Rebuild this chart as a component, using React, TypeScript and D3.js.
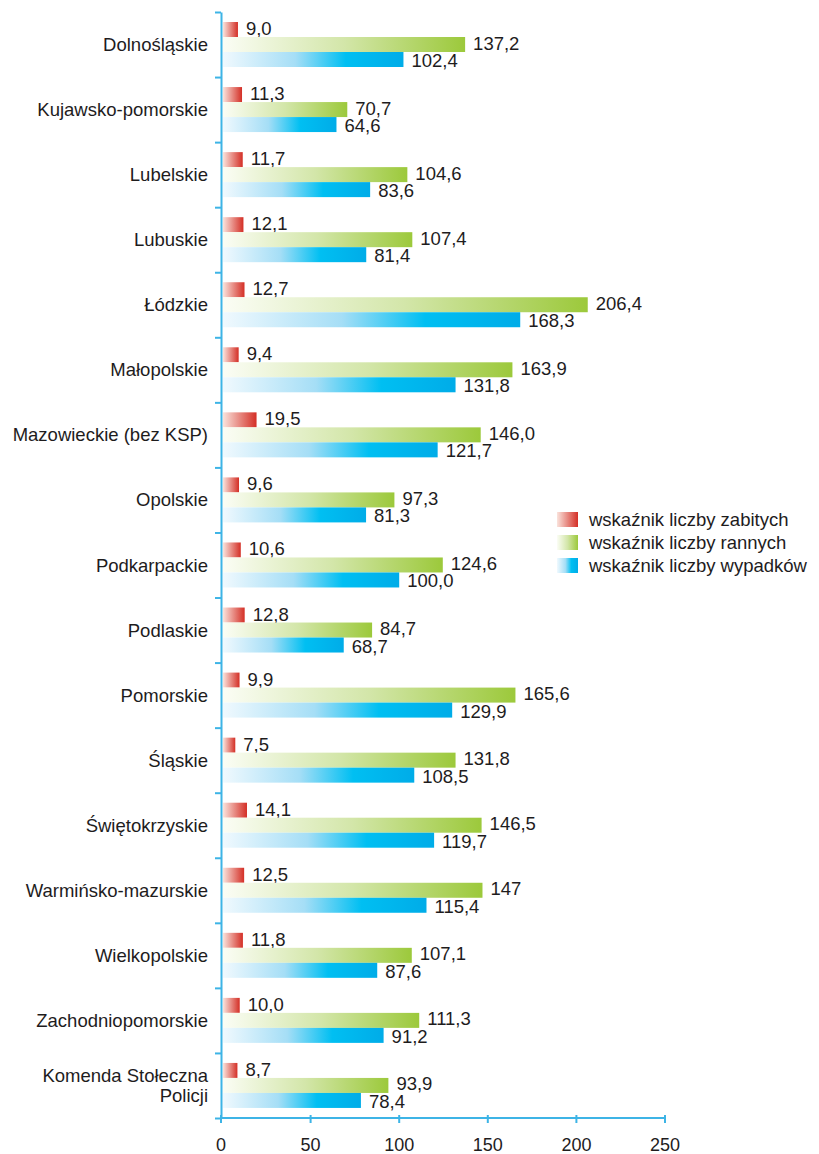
import React, { useRef, useEffect } from "react";
import * as d3 from "d3";

const categories = [
	"Dolnośląskie",
	"Kujawsko-pomorskie",
	"Lubelskie",
	"Lubuskie",
	"Łódzkie",
	"Małopolskie",
	"Mazowieckie (bez KSP)",
	"Opolskie",
	"Podkarpackie",
	"Podlaskie",
	"Pomorskie",
	"Śląskie",
	"Świętokrzyskie",
	"Warmińsko-mazurskie",
	"Wielkopolskie",
	"Zachodniopomorskie",
	"Komenda Stołeczna\nPolicji",
];

// printed values (Polish decimal comma)
const zabici = ["9,0", "11,3", "11,7", "12,1", "12,7", "9,4", "19,5", "9,6", "10,6", "12,8", "9,9", "7,5", "14,1", "12,5", "11,8", "10,0", "8,7"];
const ranni = ["137,2", "70,7", "104,6", "107,4", "206,4", "163,9", "146,0", "97,3", "124,6", "84,7", "165,6", "131,8", "146,5", "147", "107,1", "111,3", "93,9"];
const wypadki = ["102,4", "64,6", "83,6", "81,4", "168,3", "131,8", "121,7", "81,3", "100,0", "68,7", "129,9", "108,5", "119,7", "115,4", "87,6", "91,2", "78,4"];

const seriesNames = [
	"wskaźnik liczby zabitych",
	"wskaźnik liczby rannych",
	"wskaźnik liczby wypadków",
];

const xTicks = [0, 50, 100, 150, 200, 250];

const AXIS_COLOR = "#3db4e6";
const TEXT_COLOR = "#1e1c1d";
const FONT = "'Liberation Sans', Arial, Helvetica, sans-serif";

// vertical nudge of the value labels, per series
const labelDy = [5.5, 5, 7.5];

const App = () => {
	const svgRef = useRef<SVGSVGElement | null>(null);

	useEffect(() => {
		if (!svgRef.current) return;
		const width = 819;
		const height = 1154;
		const svg = d3.select(svgRef.current);
		svg.attr("width", width).attr("height", height);
		svg.selectAll("*").remove();

		const series = [zabici, ranni, wypadki].map((arr, i) => ({
			key: `s${i}`,
			name: seriesNames[i],
			values: arr.map((s) => ({ label: s, value: parseFloat(s.replace(",", ".")) })),
		}));

		const axisX = 221;
		const top = 12;
		const bottom = 1118;

		const x = d3.scaleLinear().domain([0, 250]).range([222, 665]);
		const y0 = d3.scaleBand<string>().domain(categories).range([top, bottom]);
		const y1 = d3
			.scaleBand<string>()
			.domain(series.map((s) => s.key))
			.range([10, 55]);

		const defs = svg.append("defs");
		const gradStops = [
			[
				[0, "#fae3dc"],
				[1, "#d42f26"],
			],
			[
				[0, "#fbfdf5"],
				[0.5, "#d3e6a9"],
				[1, "#9cc93b"],
			],
			[
				[0, "#f0f9fe"],
				[0.4, "#a5def6"],
				[0.68, "#00bff2"],
				[1, "#00ace8"],
			],
		];
		gradStops.forEach((stops, i) => {
			const lg = defs
				.append("linearGradient")
				.attr("id", `grad${i}`)
				.attr("x1", "0%")
				.attr("y1", "0%")
				.attr("x2", "100%")
				.attr("y2", "0%");
			stops.forEach(([o, c]) => {
				lg.append("stop").attr("offset", `${(o as number) * 100}%`).attr("stop-color", c as string);
			});
		});

		// bars
		series.forEach((s, si) => {
			const g = svg.append("g");
			g.selectAll("rect")
				.data(s.values)
				.join("rect")
				.attr("x", x(0) + 1)
				.attr("y", (d, i) => y0(categories[i])! + y1(s.key)!)
				.attr("width", (d) => x(d.value) - x(0) - 1)
				.attr("height", y1.bandwidth())
				.attr("fill", `url(#grad${si})`);

			g.selectAll("text")
				.data(s.values)
				.join("text")
				.attr("x", (d) => x(d.value) + 8)
				.attr("y", (d, i) => y0(categories[i])! + y1(s.key)! + y1.bandwidth() / 2 + labelDy[si])
				.attr("font-family", FONT)
				.attr("font-size", "18.5px")
				.attr("fill", TEXT_COLOR)
				.text((d) => d.label);
		});

		// y axis with ticks at band boundaries
		const yIdx = d3.scaleLinear().domain([0, categories.length]).range([top, bottom]);
		const yAxis = d3
			.axisLeft(yIdx)
			.tickValues(d3.range(categories.length + 1))
			.tickFormat(() => "")
			.tickSizeInner(6)
			.tickSizeOuter(0);
		const yg = svg.append("g").attr("transform", `translate(${axisX},0)`).call(yAxis);
		yg.select(".domain").attr("stroke", AXIS_COLOR).attr("stroke-width", 2);
		yg.selectAll(".tick line").attr("stroke", AXIS_COLOR).attr("stroke-width", 2);

		// category labels
		const labels = svg
			.append("g")
			.selectAll("text")
			.data(categories)
			.join("text")
			.attr("text-anchor", "end")
			.attr("font-family", FONT)
			.attr("font-size", "18.5px")
			.attr("fill", TEXT_COLOR);
		labels.each(function (c) {
			const lines = c.split("\n");
			const cy = y0(c)! + y0.bandwidth() / 2;
			const t = d3.select(this);
			lines.forEach((line, li) => {
				t.append("tspan")
					.attr("x", 208)
					.attr("y", cy + (li - (lines.length - 1) / 2) * 20 + 6.5)
					.text(line);
			});
		});

		// x axis
		const xAxis = d3
			.axisBottom(x)
			.tickValues(xTicks)
			.tickFormat((d) => `${d}`)
			.tickSizeOuter(0);
		const xg = svg.append("g").attr("transform", `translate(0,${bottom})`).call(xAxis);
		xg.select(".domain").attr("stroke", AXIS_COLOR).attr("stroke-width", 2).attr("d", `M${axisX - 1},0H${x(250) + 1}`);
		xg.selectAll(".tick")
			.attr("transform", (d) => `translate(${d === 0 ? axisX : x(d as number)},0)`);
		xg.selectAll(".tick line")
			.attr("stroke", AXIS_COLOR)
			.attr("stroke-width", 2)
			.attr("y1", -3)
			.attr("y2", 5);
		xg.selectAll(".tick text")
			.attr("y", 33)
			.attr("dy", 0)
			.attr("font-family", FONT)
			.attr("font-size", "18px")
			.attr("fill", TEXT_COLOR);

		// legend
		const legend = svg.append("g").attr("transform", "translate(557,512)");
		series.forEach((s, i) => {
			const row = legend.append("g").attr("transform", `translate(0,${i * 23})`);
			row.append("rect").attr("width", 21).attr("height", 15).attr("fill", `url(#grad${i})`);
			row.append("text")
				.attr("x", 32)
				.attr("y", 14)
				.attr("font-family", FONT)
				.attr("font-size", "18.5px")
				.attr("fill", TEXT_COLOR)
				.text(s.name);
		});
	}, []);

	return (
		<div style={{ position: "absolute", left: 0, top: 0, background: "#fff" }}>
			<svg ref={svgRef} style={{ display: "block" }}></svg>
		</div>
	);
};

export default App;
